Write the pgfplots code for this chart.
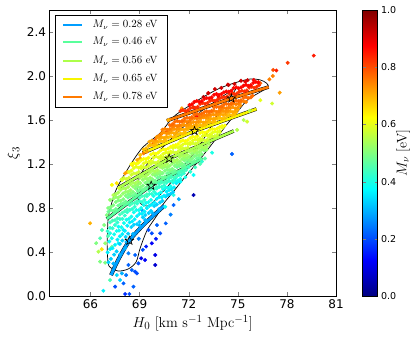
\documentclass[border=0pt]{standalone}
\usepackage[no-math]{fontspec}
\setsansfont{DejaVu Sans}
\usepackage{pgfplots}
\pgfplotsset{compat=1.18}

\definecolor{bandA}{rgb}{0,0.62,1}
\definecolor{bandB}{rgb}{0.35,1,0.61}
\definecolor{bandC}{rgb}{0.68,1,0.29}
\definecolor{bandD}{rgb}{0.97,0.96,0}
\definecolor{bandE}{rgb}{1,0.48,0}

% hollow five-pointed star
\pgfdeclareplotmark{ostar}{%
  \pgfpathmoveto{\pgfpointpolar{90}{\pgfplotmarksize}}%
  \pgfpathlineto{\pgfpointpolar{126}{0.42\pgfplotmarksize}}%
  \pgfpathlineto{\pgfpointpolar{162}{\pgfplotmarksize}}%
  \pgfpathlineto{\pgfpointpolar{198}{0.42\pgfplotmarksize}}%
  \pgfpathlineto{\pgfpointpolar{234}{\pgfplotmarksize}}%
  \pgfpathlineto{\pgfpointpolar{270}{0.42\pgfplotmarksize}}%
  \pgfpathlineto{\pgfpointpolar{306}{\pgfplotmarksize}}%
  \pgfpathlineto{\pgfpointpolar{342}{0.42\pgfplotmarksize}}%
  \pgfpathlineto{\pgfpointpolar{18}{\pgfplotmarksize}}%
  \pgfpathlineto{\pgfpointpolar{54}{0.42\pgfplotmarksize}}%
  \pgfpathclose\pgfusepathqstroke}

\pgfplotstableread{
x y m
66.79 0.048 0.36
67.51 0.085 0.20
68.02 0.115 0.22
68.12 0.018 0.17
68.38 0.018 0.20
68.63 0.085 0.22
68.84 0.206 0.20
67.81 0.145 0.33
67.20 0.145 0.45
67.61 0.190 0.34
68.18 0.190 0.24
67.92 0.206 0.30
68.53 0.236 0.22
68.73 0.221 0.20
68.32 0.282 0.22
68.93 0.297 0.20
69.10 0.343 0.10
69.34 0.327 0.12
69.96 0.282 0.08
68.73 0.373 0.22
68.32 0.388 0.25
66.90 0.303 0.50
66.59 0.312 0.50
66.49 0.403 0.55
66.69 0.425 0.65
66.90 0.479 0.52
66.59 0.525 0.45
65.98 0.661 0.70
67.00 0.736 0.50
67.20 0.570 0.40
67.31 0.448 0.48
67.71 0.630 0.38
67.71 0.479 0.38
68.02 0.600 0.36
68.12 0.434 0.30
69.75 0.570 0.20
69.55 0.600 0.20
70.06 0.645 0.22
70.26 0.570 0.20
69.75 0.479 0.12
69.96 0.373 0.10
69.34 0.691 0.30
69.14 0.782 0.28
70.57 0.812 0.38
71.08 0.827 0.22
72.30 0.918 0.05
71.08 0.918 0.40
71.18 1.070 0.38
72.81 1.221 0.42
73.43 1.303 0.40
74.65 1.291 0.22
74.96 1.510 0.55
75.57 1.585 0.58
75.36 1.600 0.55
75.73 1.685 0.55
76.38 1.780 0.60
77.10 1.750 0.58
77.56 1.848 0.72
76.93 1.970 0.75
77.14 2.000 0.75
77.16 2.055 0.80
77.36 2.050 0.85
78.05 2.120 0.82
79.64 2.185 0.85
76.38 1.934 0.78
69.20 0.420 0.20
68.95 0.520 0.25
69.40 0.450 0.15
70.00 0.520 0.15
70.60 0.660 0.22
70.90 0.740 0.25
71.40 0.880 0.30
71.80 1.080 0.40
72.10 1.130 0.42
72.40 1.170 0.44
72.70 1.200 0.45
73.00 1.250 0.46
71.50 1.040 0.38
72.30 1.100 0.38
70.67 1.494 0.85
71.08 1.555 0.85
71.59 1.706 0.72
72.30 1.715 0.95
72.50 1.630 0.88
72.91 1.810 0.95
73.83 1.810 0.90
74.44 1.918 0.95
75.46 1.948 0.90
75.97 1.964 0.88
76.26 1.945 0.85
73.20 1.845 0.90
69.45 1.312 0.72
69.65 1.373 0.75
69.96 1.418 0.78
70.26 1.464 0.80
69.04 1.282 0.68
68.86 1.236 0.70
68.55 1.191 0.65
68.24 1.127 0.70
67.94 1.055 0.62
67.61 1.025 0.65
68.12 1.115 0.72
67.40 0.918 0.55
67.75 0.980 0.58
67.20 0.873 0.52
67.08 0.800 0.50
66.84 0.645 0.50
66.71 0.600 0.45
67.08 0.545 0.45
66.35 0.480 0.50
67.31 1.010 0.62
69.04 1.252 0.72
69.24 1.297 0.75
69.85 1.388 0.78
70.37 1.479 0.80
70.77 1.600 0.70
67.40 0.295 0.30
67.80 0.377 0.30
68.20 0.491 0.30
68.60 0.564 0.30
69.00 0.642 0.30
69.40 0.685 0.30
69.80 0.753 0.30
70.20 0.791 0.30
67.10 0.307 0.33
67.45 0.376 0.33
67.80 0.474 0.33
68.15 0.537 0.33
68.50 0.627 0.33
68.85 0.653 0.33
69.20 0.715 0.33
69.55 0.753 0.33
69.90 0.817 0.33
70.25 0.850 0.33
70.60 0.905 0.33
70.90 0.930 0.33
67.25 0.337 0.33
67.60 0.406 0.33
67.95 0.504 0.33
68.30 0.567 0.33
68.65 0.647 0.33
69.00 0.673 0.33
69.35 0.735 0.33
69.70 0.773 0.33
70.05 0.832 0.33
70.40 0.865 0.33
70.75 0.920 0.33
71.05 0.945 0.33
67.05 0.396 0.36
67.35 0.435 0.36
67.65 0.512 0.36
67.95 0.562 0.36
68.25 0.639 0.36
68.55 0.678 0.36
68.85 0.727 0.36
69.15 0.748 0.36
69.45 0.799 0.36
69.75 0.831 0.36
70.05 0.883 0.36
70.35 0.897 0.36
70.65 0.948 0.36
70.95 0.972 0.36
71.25 1.026 0.36
67.20 0.426 0.36
67.50 0.465 0.36
67.80 0.542 0.36
68.10 0.592 0.36
68.40 0.669 0.36
68.70 0.698 0.36
69.00 0.747 0.36
69.30 0.768 0.36
69.60 0.819 0.36
69.90 0.851 0.36
70.20 0.898 0.36
70.50 0.912 0.36
70.80 0.963 0.36
71.10 0.987 0.36
71.40 1.041 0.36
67.15 0.495 0.39
67.45 0.561 0.39
67.75 0.595 0.39
68.05 0.663 0.39
68.35 0.702 0.39
68.65 0.761 0.39
68.95 0.779 0.39
69.25 0.827 0.39
69.55 0.854 0.39
69.85 0.909 0.39
70.15 0.927 0.39
70.45 0.970 0.39
70.75 0.983 0.39
71.05 1.030 0.39
71.35 1.050 0.39
67.30 0.525 0.39
67.60 0.591 0.39
67.90 0.625 0.39
68.20 0.693 0.39
68.50 0.722 0.39
68.80 0.781 0.39
69.10 0.799 0.39
69.40 0.847 0.39
69.70 0.874 0.39
70.00 0.929 0.39
70.30 0.942 0.39
70.60 0.985 0.39
70.90 0.998 0.39
71.20 1.045 0.39
71.50 1.065 0.39
67.05 0.590 0.42
67.35 0.616 0.42
67.65 0.669 0.42
67.95 0.701 0.42
68.25 0.762 0.42
68.55 0.791 0.42
68.85 0.840 0.42
69.15 0.854 0.42
69.45 0.907 0.42
69.75 0.928 0.42
70.05 0.977 0.42
70.35 0.992 0.42
70.65 1.030 0.42
70.95 1.042 0.42
71.25 1.084 0.42
71.55 1.101 0.42
67.20 0.620 0.42
67.50 0.646 0.42
67.80 0.699 0.42
68.10 0.731 0.42
68.40 0.782 0.42
68.70 0.811 0.42
69.00 0.860 0.42
69.30 0.874 0.42
69.60 0.927 0.42
69.90 0.948 0.42
70.20 0.992 0.42
70.50 1.007 0.42
70.80 1.045 0.42
71.10 1.057 0.42
71.40 1.099 0.42
71.70 1.116 0.42
67.20 0.669 0.44
67.50 0.690 0.44
67.80 0.741 0.44
68.10 0.770 0.44
68.40 0.826 0.44
68.70 0.846 0.44
69.00 0.892 0.44
69.30 0.909 0.44
69.60 0.958 0.44
69.90 0.976 0.44
70.20 1.020 0.44
70.50 1.034 0.44
70.80 1.068 0.44
71.10 1.078 0.44
71.40 1.118 0.44
71.70 1.134 0.44
72.00 1.172 0.44
67.35 0.685 0.44
67.65 0.706 0.44
67.95 0.757 0.44
68.25 0.786 0.44
68.55 0.842 0.44
68.85 0.862 0.44
69.15 0.908 0.44
69.45 0.925 0.44
69.75 0.974 0.44
70.05 0.992 0.44
70.35 1.033 0.44
70.65 1.047 0.44
70.95 1.081 0.44
71.25 1.091 0.44
71.55 1.131 0.44
71.85 1.147 0.44
67.10 0.765 0.48
67.40 0.775 0.48
67.70 0.822 0.48
68.00 0.843 0.48
68.30 0.895 0.48
68.60 0.912 0.48
68.90 0.953 0.48
69.20 0.966 0.48
69.50 1.010 0.48
69.80 1.032 0.48
70.10 1.073 0.48
70.40 1.075 0.48
70.70 1.115 0.48
71.00 1.128 0.48
71.30 1.171 0.48
71.60 1.179 0.48
71.90 1.212 0.48
72.20 1.216 0.48
72.50 1.250 0.48
67.25 0.780 0.48
67.55 0.790 0.48
67.85 0.837 0.48
68.15 0.858 0.48
68.45 0.910 0.48
68.75 0.927 0.48
69.05 0.968 0.48
69.35 0.981 0.48
69.65 1.025 0.48
69.95 1.047 0.48
70.25 1.085 0.48
70.55 1.087 0.48
70.85 1.127 0.48
71.15 1.140 0.48
71.45 1.183 0.48
71.75 1.191 0.48
72.05 1.224 0.48
72.35 1.228 0.48
72.65 1.260 0.48
67.25 0.810 0.50
67.55 0.854 0.50
67.85 0.865 0.50
68.15 0.911 0.50
68.45 0.931 0.50
68.75 0.977 0.50
69.05 0.988 0.50
69.35 1.028 0.50
69.65 1.046 0.50
69.95 1.094 0.50
70.25 1.104 0.50
70.55 1.138 0.50
70.85 1.144 0.50
71.15 1.183 0.50
71.45 1.193 0.50
71.75 1.232 0.50
72.05 1.236 0.50
72.35 1.269 0.50
72.65 1.280 0.50
72.95 1.322 0.50
67.40 0.825 0.50
67.70 0.869 0.50
68.00 0.880 0.50
68.30 0.926 0.50
68.60 0.946 0.50
68.90 0.992 0.50
69.20 1.003 0.50
69.50 1.043 0.50
69.80 1.061 0.50
70.10 1.106 0.50
70.40 1.116 0.50
70.70 1.150 0.50
71.00 1.156 0.50
71.30 1.195 0.50
71.60 1.205 0.50
71.90 1.244 0.50
72.20 1.248 0.50
72.50 1.281 0.50
72.80 1.290 0.50
73.10 1.330 0.50
67.40 0.884 0.52
67.70 0.895 0.52
68.00 0.933 0.52
68.30 0.949 0.52
68.60 0.995 0.52
68.90 1.012 0.52
69.20 1.055 0.52
69.50 1.062 0.52
69.80 1.105 0.52
70.10 1.119 0.52
70.40 1.163 0.52
70.70 1.172 0.52
71.00 1.205 0.52
71.30 1.211 0.52
71.60 1.245 0.52
71.90 1.256 0.52
72.20 1.293 0.52
72.50 1.301 0.52
72.80 1.330 0.52
73.10 1.334 0.52
67.55 0.899 0.52
67.85 0.910 0.52
68.15 0.948 0.52
68.45 0.964 0.52
68.75 1.010 0.52
69.05 1.027 0.52
69.35 1.070 0.52
69.65 1.077 0.52
69.95 1.120 0.52
70.25 1.131 0.52
70.55 1.175 0.52
70.85 1.184 0.52
71.15 1.217 0.52
71.45 1.223 0.52
71.75 1.257 0.52
72.05 1.268 0.52
72.35 1.305 0.52
72.65 1.311 0.52
72.95 1.340 0.52
67.55 0.926 0.54
67.85 0.966 0.54
68.15 0.976 0.54
68.45 1.016 0.54
68.75 1.028 0.54
69.05 1.077 0.54
69.35 1.089 0.54
69.65 1.126 0.54
69.95 1.134 0.54
70.25 1.175 0.54
70.55 1.190 0.54
70.85 1.229 0.54
71.15 1.228 0.54
71.45 1.265 0.54
71.75 1.274 0.54
72.05 1.313 0.54
72.35 1.318 0.54
72.65 1.348 0.54
72.95 1.350 0.54
73.25 1.382 0.54
67.70 0.941 0.54
68.00 0.981 0.54
68.30 0.991 0.54
68.60 1.031 0.54
68.90 1.043 0.54
69.20 1.092 0.54
69.50 1.104 0.54
69.80 1.141 0.54
70.10 1.146 0.54
70.40 1.187 0.54
70.70 1.202 0.54
71.00 1.241 0.54
71.30 1.240 0.54
71.60 1.277 0.54
71.90 1.286 0.54
72.20 1.325 0.54
72.50 1.330 0.54
72.80 1.358 0.54
73.10 1.360 0.54
67.90 1.059 0.58
68.20 1.062 0.58
68.50 1.101 0.58
68.80 1.115 0.58
69.10 1.159 0.58
69.40 1.168 0.58
69.70 1.202 0.58
70.00 1.208 0.58
70.30 1.244 0.58
70.60 1.261 0.58
70.90 1.299 0.58
71.20 1.301 0.58
71.50 1.332 0.58
71.80 1.340 0.58
72.10 1.379 0.58
72.40 1.382 0.58
72.70 1.410 0.58
73.00 1.412 0.58
73.30 1.441 0.58
73.60 1.453 0.58
73.90 1.487 0.58
68.05 1.072 0.58
68.35 1.075 0.58
68.65 1.114 0.58
68.95 1.128 0.58
69.25 1.172 0.58
69.55 1.181 0.58
69.85 1.215 0.58
70.15 1.221 0.58
70.45 1.257 0.58
70.75 1.274 0.58
71.05 1.309 0.58
71.35 1.311 0.58
71.65 1.342 0.58
71.95 1.350 0.58
72.25 1.389 0.58
72.55 1.392 0.58
72.85 1.420 0.58
73.15 1.422 0.58
73.45 1.451 0.58
73.75 1.463 0.58
68.35 1.127 0.60
68.65 1.163 0.60
68.95 1.166 0.60
69.25 1.205 0.60
69.55 1.218 0.60
69.85 1.256 0.60
70.15 1.259 0.60
70.45 1.292 0.60
70.75 1.303 0.60
71.05 1.345 0.60
71.35 1.349 0.60
71.65 1.378 0.60
71.95 1.383 0.60
72.25 1.413 0.60
72.55 1.421 0.60
72.85 1.454 0.60
73.15 1.458 0.60
73.45 1.484 0.60
73.75 1.491 0.60
74.05 1.529 0.60
68.50 1.140 0.60
68.80 1.176 0.60
69.10 1.179 0.60
69.40 1.218 0.60
69.70 1.231 0.60
70.00 1.269 0.60
70.30 1.272 0.60
70.60 1.304 0.60
70.90 1.313 0.60
71.20 1.355 0.60
71.50 1.359 0.60
71.80 1.388 0.60
72.10 1.393 0.60
72.40 1.423 0.60
72.70 1.431 0.60
73.00 1.464 0.60
73.30 1.468 0.60
73.60 1.494 0.60
73.90 1.501 0.60
68.50 1.198 0.62
68.80 1.200 0.62
69.10 1.234 0.62
69.40 1.245 0.62
69.70 1.286 0.62
70.00 1.292 0.62
70.30 1.323 0.62
70.60 1.330 0.62
70.90 1.357 0.62
71.20 1.371 0.62
71.50 1.405 0.62
71.80 1.408 0.62
72.10 1.437 0.62
72.40 1.444 0.62
72.70 1.482 0.62
73.00 1.484 0.62
73.30 1.511 0.62
73.60 1.514 0.62
73.90 1.537 0.62
74.20 1.548 0.62
68.65 1.210 0.62
68.95 1.212 0.62
69.25 1.246 0.62
69.55 1.257 0.62
69.85 1.298 0.62
70.15 1.304 0.62
70.45 1.335 0.62
70.75 1.340 0.62
71.05 1.367 0.62
71.35 1.381 0.62
71.65 1.415 0.62
71.95 1.418 0.62
72.25 1.447 0.62
72.55 1.454 0.62
72.85 1.491 0.62
73.15 1.493 0.62
73.45 1.520 0.62
73.75 1.523 0.62
74.05 1.545 0.62
69.25 1.332 0.69
69.55 1.364 0.69
69.85 1.368 0.69
70.15 1.398 0.69
70.45 1.406 0.69
70.75 1.440 0.69
71.05 1.443 0.69
71.35 1.468 0.69
71.65 1.475 0.69
71.95 1.515 0.69
72.25 1.518 0.69
72.55 1.545 0.69
72.85 1.548 0.69
73.15 1.575 0.69
73.45 1.579 0.69
73.75 1.612 0.69
74.05 1.610 0.69
74.35 1.637 0.69
74.65 1.642 0.69
74.90 1.670 0.69
69.40 1.342 0.69
69.70 1.374 0.69
70.00 1.378 0.69
70.30 1.408 0.69
70.60 1.416 0.69
70.90 1.450 0.69
71.20 1.453 0.69
71.50 1.478 0.69
71.80 1.485 0.69
72.10 1.525 0.69
72.40 1.527 0.69
72.70 1.553 0.69
73.00 1.556 0.69
73.30 1.583 0.69
73.60 1.587 0.69
73.90 1.620 0.69
74.20 1.618 0.69
74.50 1.645 0.69
74.80 1.650 0.69
69.60 1.402 0.71
69.90 1.398 0.71
70.20 1.432 0.71
70.50 1.438 0.71
70.80 1.476 0.71
71.10 1.479 0.71
71.40 1.507 0.71
71.70 1.510 0.71
72.00 1.536 0.71
72.30 1.547 0.71
72.60 1.578 0.71
72.90 1.576 0.71
73.20 1.604 0.71
73.50 1.609 0.71
73.80 1.645 0.71
74.10 1.646 0.71
74.40 1.671 0.71
74.70 1.672 0.71
75.00 1.695 0.71
69.75 1.412 0.71
70.05 1.408 0.71
70.35 1.442 0.71
70.65 1.448 0.71
70.95 1.486 0.71
71.25 1.489 0.71
71.55 1.517 0.71
71.85 1.519 0.71
72.15 1.545 0.71
72.45 1.556 0.71
72.75 1.586 0.71
73.05 1.584 0.71
73.35 1.612 0.71
73.65 1.617 0.71
73.95 1.653 0.71
74.25 1.654 0.71
74.55 1.679 0.71
74.85 1.680 0.71
70.05 1.446 0.73
70.35 1.477 0.73
70.65 1.478 0.73
70.95 1.508 0.73
71.25 1.516 0.73
71.55 1.548 0.73
71.85 1.550 0.73
72.15 1.573 0.73
72.45 1.579 0.73
72.75 1.616 0.73
73.05 1.619 0.73
73.35 1.642 0.73
73.65 1.645 0.73
73.95 1.672 0.73
74.25 1.677 0.73
74.55 1.708 0.73
74.85 1.705 0.73
75.15 1.732 0.73
70.20 1.456 0.73
70.50 1.487 0.73
70.80 1.488 0.73
71.10 1.518 0.73
71.40 1.526 0.73
71.70 1.557 0.73
72.00 1.559 0.73
72.30 1.582 0.73
72.60 1.587 0.73
72.90 1.624 0.73
73.20 1.627 0.73
73.50 1.650 0.73
73.80 1.653 0.73
74.10 1.680 0.73
74.40 1.685 0.73
74.70 1.716 0.73
75.00 1.713 0.73
70.40 1.512 0.75
70.70 1.510 0.75
71.00 1.539 0.75
71.30 1.545 0.75
71.60 1.582 0.75
71.90 1.583 0.75
72.20 1.610 0.75
72.50 1.612 0.75
72.80 1.635 0.75
73.10 1.645 0.75
73.40 1.676 0.75
73.70 1.674 0.75
74.00 1.701 0.75
74.30 1.706 0.75
74.60 1.741 0.75
74.90 1.742 0.75
75.20 1.765 0.75
75.50 1.764 0.75
70.55 1.520 0.75
70.85 1.518 0.75
71.15 1.547 0.75
71.45 1.553 0.75
71.75 1.590 0.75
72.05 1.591 0.75
72.35 1.618 0.75
72.65 1.620 0.75
72.95 1.643 0.75
73.25 1.653 0.75
73.55 1.684 0.75
73.85 1.682 0.75
74.15 1.709 0.75
74.45 1.714 0.75
74.75 1.749 0.75
75.05 1.750 0.75
75.35 1.773 0.75
70.85 1.553 0.77
71.15 1.583 0.77
71.45 1.584 0.77
71.75 1.613 0.77
72.05 1.619 0.77
72.35 1.649 0.77
72.65 1.650 0.77
72.95 1.671 0.77
73.25 1.676 0.77
73.55 1.713 0.77
73.85 1.716 0.77
74.15 1.740 0.77
74.45 1.742 0.77
74.75 1.768 0.77
75.05 1.772 0.77
75.35 1.801 0.77
75.65 1.798 0.77
75.90 1.821 0.77
71.00 1.561 0.77
71.30 1.591 0.77
71.60 1.592 0.77
71.90 1.621 0.77
72.20 1.627 0.77
72.50 1.657 0.77
72.80 1.658 0.77
73.10 1.679 0.77
73.40 1.684 0.77
73.70 1.721 0.77
74.00 1.724 0.77
74.30 1.748 0.77
74.60 1.750 0.77
74.90 1.776 0.77
75.20 1.780 0.77
75.50 1.809 0.77
75.80 1.806 0.77
71.50 1.682 0.83
71.80 1.680 0.83
72.10 1.707 0.83
72.40 1.711 0.83
72.70 1.746 0.83
73.00 1.747 0.83
73.30 1.773 0.83
73.60 1.774 0.83
73.90 1.797 0.83
74.20 1.806 0.83
74.50 1.837 0.83
74.80 1.834 0.83
75.10 1.858 0.83
75.40 1.860 0.83
75.70 1.894 0.83
76.00 1.893 0.83
76.30 1.916 0.83
71.65 1.690 0.83
71.95 1.688 0.83
72.25 1.715 0.83
72.55 1.719 0.83
72.85 1.754 0.83
73.15 1.755 0.83
73.45 1.781 0.83
73.75 1.782 0.83
74.05 1.805 0.83
74.35 1.814 0.83
74.65 1.845 0.83
74.95 1.842 0.83
75.25 1.866 0.83
75.55 1.868 0.83
75.85 1.902 0.83
76.15 1.901 0.83
72.05 1.736 0.87
72.35 1.765 0.87
72.65 1.764 0.87
72.95 1.792 0.87
73.25 1.798 0.87
73.55 1.829 0.87
73.85 1.828 0.87
74.15 1.851 0.87
74.45 1.858 0.87
74.75 1.890 0.87
75.05 1.888 0.87
75.35 1.912 0.87
75.65 1.910 0.87
75.95 1.938 0.87
76.25 1.940 0.87
72.20 1.744 0.87
72.50 1.773 0.87
72.80 1.772 0.87
73.10 1.800 0.87
73.40 1.806 0.87
73.70 1.837 0.87
74.00 1.836 0.87
74.30 1.859 0.87
74.60 1.866 0.87
74.90 1.898 0.87
75.20 1.896 0.87
75.50 1.920 0.87
75.80 1.918 0.87
76.10 1.946 0.87
73.20 1.844 0.92
73.60 1.881 0.92
74.00 1.892 0.92
74.40 1.922 0.92
74.80 1.927 0.92
75.20 1.957 0.92
75.60 1.962 0.92
}\chains

\begin{document}
\begin{tikzpicture}
\useasboundingbox (-49.5pt,-45pt) rectangle (365.5pt,296pt);
\begin{axis}[
    at={(0pt,0pt)}, anchor=south west,
    scale only axis, width=286.5pt, height=286pt,
    xmin=63.5, xmax=81, ymin=0, ymax=2.6,
    xtick={66,69,72,75,78,81},
    ytick={0,0.4,0.8,1.2,1.6,2,2.4},
    tick align=inside, major tick length=4pt,
    axis line style={line width=0.7pt},
    /pgf/number format/assume math mode=true,
    tick label style={font=\fontsize{12}{14}\sffamily},
    yticklabel style={/pgf/number format/fixed,/pgf/number format/fixed zerofill,/pgf/number format/precision=1},
    xlabel={$H_0\ [\mathrm{km\ s^{-1}\ Mpc^{-1}}]$},
    ylabel={$\xi_3$},
    label style={font=\fontsize{15}{17}\selectfont},
    colormap/jet, point meta min=0, point meta max=1,
    colorbar,
    colorbar style={
        scale only axis, width=15pt, height=286pt,
        at={(parent axis.north east)}, anchor=north west, xshift=18pt,
        ytick={0,0.2,0.4,0.6,0.8,1},
        major tick length=3pt,
        /pgf/number format/assume math mode=true,
        yticklabel style={font=\fontsize{9.5}{11}\sffamily,/pgf/number format/fixed,/pgf/number format/fixed zerofill,/pgf/number format/precision=1},
        ylabel={$M_\nu$ [eV]},
        ylabel style={font=\fontsize{14}{16}\selectfont},
        ylabel shift=-7pt,
    },
]
\addplot[scatter, only marks, mark=*, mark size=1.8pt, scatter src=explicit,
    scatter/use mapped color={draw=mapped color, fill=mapped color}]
    table[x=x, y=y, meta=m] {\chains};

% 95% and 68% contours
\addplot[black, line width=0.7pt, smooth, tension=0.5] coordinates {
(67.08,0.718)(67.51,0.945)(68.24,1.145)(69.16,1.345)(70.26,1.482)(71.06,1.627)
(71.92,1.718)(72.89,1.809)(73.93,1.891)(74.98,1.945)(75.77,1.973)(76.38,1.964)
(76.75,1.936)(76.87,1.90)(76.50,1.865)(75.59,1.782)(74.98,1.673)(74.36,1.564)
(73.75,1.445)(73.14,1.327)(72.40,1.191)(71.73,1.073)(71.00,0.936)(70.45,0.836)
(70.08,0.736)(69.47,0.600)(69.04,0.436)(68.79,0.309)(68.30,0.245)(67.69,0.227)
(67.26,0.255)(67.08,0.300)(67.02,0.482)(67.08,0.718)};
\addplot[black, line width=0.7pt, smooth, tension=0.5] coordinates {
(69.34,1.173)(69.83,1.264)(70.69,1.391)(71.67,1.536)(72.71,1.673)(73.93,1.800)
(74.67,1.873)(74.95,1.900)(74.60,1.820)(74.18,1.745)(73.69,1.627)(73.14,1.482)
(72.47,1.327)(71.61,1.164)(70.69,0.991)(69.83,0.855)(69.47,0.818)(69.10,0.836)
(68.85,0.918)(68.98,1.073)(69.34,1.173)};

% degeneracy bands
\addplot[black, line width=0.45pt, double=bandA, double distance=3pt, smooth]
    coordinates {(67.26,0.19)(67.70,0.33)(68.38,0.503)(69.30,0.655)(70.51,0.82)};
\addplot[black, line width=0.45pt, double=bandB, double distance=2.6pt, smooth]
    coordinates {(67.00,0.70)(68.35,0.852)(69.71,1.003)(71.28,1.127)(72.85,1.25)};
\addplot[black, line width=0.45pt, double=bandC, double distance=2.6pt]
    coordinates {(67.77,0.99)(70.81,1.25)(74.75,1.50)};
\addplot[black, line width=0.45pt, double=bandD, double distance=2.6pt]
    coordinates {(69.20,1.30)(72.36,1.50)(76.14,1.70)};
\addplot[black, line width=0.45pt, double=bandE, double distance=2.6pt]
    coordinates {(70.67,1.594)(74.61,1.797)(76.89,1.90)};

\addplot[only marks, mark=ostar, mark size=4.5pt, black, line width=0.6pt]
    coordinates {(68.38,0.503)(69.71,1.003)(70.81,1.25)(72.36,1.50)(74.61,1.797)};

% legend box
\draw[black, line width=0.6pt, fill=white]
    (axis description cs:0.0192,0.661) rectangle (axis description cs:0.410,0.9825);
\draw[bandA, line width=1.6pt] (axis description cs:0.048,0.9476) -- (axis description cs:0.112,0.9476);
\draw[bandB, line width=1.6pt] (axis description cs:0.048,0.8880) -- (axis description cs:0.112,0.8880);
\draw[bandC, line width=1.6pt] (axis description cs:0.048,0.8217) -- (axis description cs:0.112,0.8217);
\draw[bandD, line width=1.6pt] (axis description cs:0.048,0.7587) -- (axis description cs:0.112,0.7587);
\draw[bandE, line width=1.6pt] (axis description cs:0.048,0.6968) -- (axis description cs:0.112,0.6968);
\node[anchor=west, inner sep=0pt, font=\fontsize{10.5}{12}\selectfont]
    at (axis description cs:0.150,0.9476) {$M_\nu=0.28$ eV};
\node[anchor=west, inner sep=0pt, font=\fontsize{10.5}{12}\selectfont]
    at (axis description cs:0.150,0.8880) {$M_\nu=0.46$ eV};
\node[anchor=west, inner sep=0pt, font=\fontsize{10.5}{12}\selectfont]
    at (axis description cs:0.150,0.8217) {$M_\nu=0.56$ eV};
\node[anchor=west, inner sep=0pt, font=\fontsize{10.5}{12}\selectfont]
    at (axis description cs:0.150,0.7587) {$M_\nu=0.65$ eV};
\node[anchor=west, inner sep=0pt, font=\fontsize{10.5}{12}\selectfont]
    at (axis description cs:0.150,0.6968) {$M_\nu=0.78$ eV};
\end{axis}
\end{tikzpicture}
\end{document}
